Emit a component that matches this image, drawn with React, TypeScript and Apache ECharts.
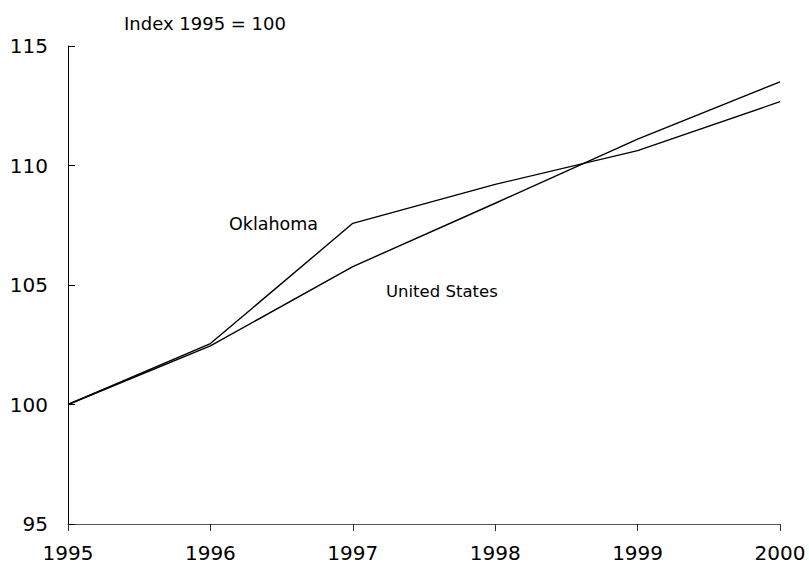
import React, { useEffect, useRef } from "react";
import * as echarts from "echarts";

const years = ["1995", "1996", "1997", "1998", "1999", "2000"];
const oklahoma = [100, 102.55, 107.58, 109.21, 110.62, 112.67];
const unitedStates = [100, 102.45, 105.77, 108.42, 111.1, 113.5];
const yTicks = { min: 95, max: 115, interval: 5 };

const FONT = "DejaVu Sans";

export default function App() {
  const ref = useRef<HTMLDivElement>(null);
  useEffect(() => {
    if (!ref.current) return;
    const chart = echarts.init(ref.current, undefined, { renderer: "svg" });
    chart.setOption({
      animation: false,
      backgroundColor: "#ffffff",
      grid: { left: 68, right: 29, top: 46, bottom: 43, containLabel: false },
      xAxis: {
        type: "category",
        data: years,
        boundaryGap: false,
        axisLine: { lineStyle: { color: "#555", width: 1 } },
        axisTick: { show: true, inside: false, length: 7, lineStyle: { color: "#333" } },
        axisLabel: { color: "#000", fontSize: 20, fontFamily: FONT, margin: 19 },
        splitLine: { show: false },
      },
      yAxis: {
        type: "value",
        min: yTicks.min,
        max: yTicks.max,
        interval: yTicks.interval,
        axisLine: { show: true, lineStyle: { color: "#000", width: 1 } },
        axisTick: { show: true, inside: true, length: 7, lineStyle: { color: "#000" } },
        axisLabel: { color: "#000", fontSize: 20, fontFamily: FONT, margin: 20 },
        splitLine: { show: false },
      },
      series: [
        {
          name: "Oklahoma",
          type: "line",
          data: oklahoma,
          symbol: "none",
          lineStyle: { color: "#000", width: 1.4 },
        },
        {
          name: "United States",
          type: "line",
          data: unitedStates,
          symbol: "none",
          lineStyle: { color: "#000", width: 1.4 },
        },
      ],
      graphic: [
        {
          type: "text",
          x: 124,
          y: 23,
          style: { text: "Index 1995 = 100", fontSize: 18, fontFamily: FONT, fill: "#000", verticalAlign: "middle" },
        },
        {
          type: "text",
          x: 229,
          y: 224,
          style: { text: "Oklahoma", fontSize: 17.5, fontFamily: FONT, fill: "#000", verticalAlign: "middle" },
        },
        {
          type: "text",
          x: 386,
          y: 291,
          style: { text: "United States", fontSize: 16.5, fontFamily: FONT, fill: "#000", verticalAlign: "middle" },
        },
      ],
    });
    return () => chart.dispose();
  }, []);
  return <div ref={ref} style={{ width: 809, height: 567, position: "absolute", left: 0, top: 0 }} />;
}
